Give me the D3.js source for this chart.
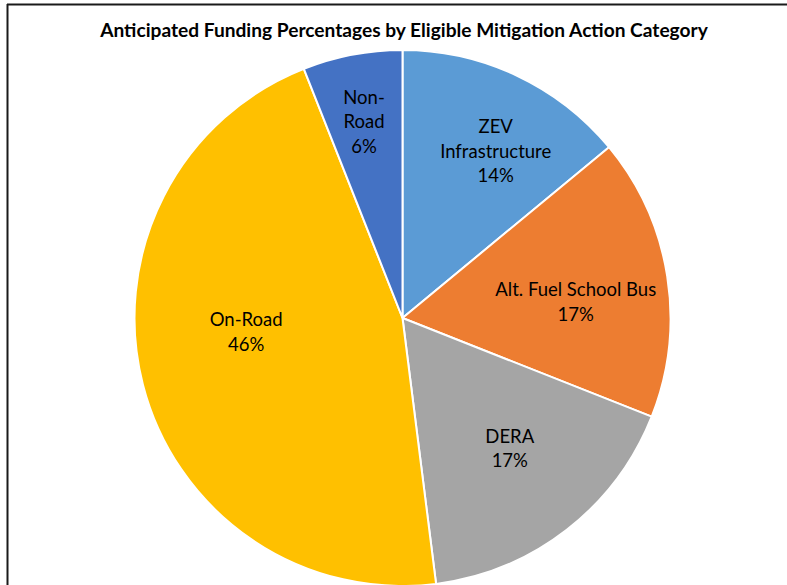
<!DOCTYPE html>
<html>
<head>
<meta charset="utf-8">
<script src="https://cdn.jsdelivr.net/npm/d3@7"></script>
<style>
  html, body { margin: 0; padding: 0; background: #fff; overflow: hidden; }
  #chart-wrapper { width: 787px; height: 585px; }
</style>
</head>
<body>
<div id="chart-wrapper"></div>
<script>
// Data
const categories = ["ZEV Infrastructure", "Alt. Fuel School Bus", "DERA", "On-Road", "Non-Road"]
const labelLines = [["ZEV", "Infrastructure"], ["Alt. Fuel School Bus"], ["DERA"], ["On-Road"], ["Non-", "Road"]]
const percents = [14, 17, 17, 46, 6]
const colors = ["#5B9BD5", "#ED7D31", "#A5A5A5", "#FFC000", "#4472C4"]
const title = "Anticipated Funding Percentages by Eligible Mitigation Action Category"

// Config
const width = 787
const height = 585
const font = "Lato, 'Open Sans', sans-serif"
const center = {x: 402.5, y: 318}
const radius = 268
// label placement (angle deg from 12 o'clock, distance from centre), like Excel best fit
const labelPlace = {
  "ZEV Infrastructure": [29.2, 191],
  "Alt. Fuel School Bus": [84.7, 174],
  "DERA": [140.6, 169],
  "On-Road": [264.9, 157],
  "Non-Road": [348.9, 200]
}

const data = categories.map((c, i) => ({name: c, value: percents[i], color: colors[i], lines: labelLines[i]}))

const svg = d3.select("#chart-wrapper")
  .append("svg")
  .attr("width", width)
  .attr("height", height)

// frame (top and left edges of the chart box)
svg.append("line")
  .attr("x1", 7).attr("x2", width).attr("y1", 4.5).attr("y2", 4.5)
  .attr("stroke", "#1a1a1a").attr("stroke-width", 2)
svg.append("line")
  .attr("x1", 7.5).attr("x2", 7.5).attr("y1", 4).attr("y2", height)
  .attr("stroke", "#1a1a1a").attr("stroke-width", 2)

// Title, fitted to the width it takes in the original
const titleText = svg.append("text")
  .attr("x", 404)
  .attr("y", 37)
  .attr("text-anchor", "middle")
  .attr("font-family", font)
  .attr("font-weight", "bold")
  .attr("font-size", 17)
  .attr("fill", "#000")
  .text(title)
const tw = titleText.node().getComputedTextLength()
titleText.attr("font-size", 17 * 608 / tw)

// Pie
const pie = d3.pie().value(d => d.value).sort(null)
const arc = d3.arc().innerRadius(0).outerRadius(radius)
const arcs = pie(data)

const g = svg.append("g").attr("transform", `translate(${center.x},${center.y})`)

g.selectAll("path.slice")
  .data(arcs)
  .join("path")
  .attr("class", "slice")
  .attr("d", arc)
  .attr("fill", d => d.data.color)
  .attr("stroke", "#fff")
  .attr("stroke-width", 2)
  .attr("stroke-linejoin", "round")

// Labels
const lineH = 24.5
const labels = g.selectAll("text.lbl")
  .data(arcs)
  .join("text")
  .attr("class", "lbl")
  .attr("text-anchor", "middle")
  .attr("font-family", font)
  .attr("font-size", 18.5)
  .attr("fill", "#000")
  .attr("transform", d => {
    const p = labelPlace[d.data.name]
    const a = p[0] * Math.PI / 180
    const n = d.data.lines.length + 1
    const x = Math.sin(a) * p[1]
    const y = -Math.cos(a) * p[1] - (n - 1) * lineH / 2 + 6.5
    return `translate(${x},${y})`
  })

labels.each(function(d) {
  const t = d3.select(this)
  d.data.lines.concat([d.data.value + "%"]).forEach((s, i) => {
    t.append("tspan").attr("x", 0).attr("dy", i === 0 ? 0 : lineH).text(s)
  })
})
</script>
</body>
</html>
